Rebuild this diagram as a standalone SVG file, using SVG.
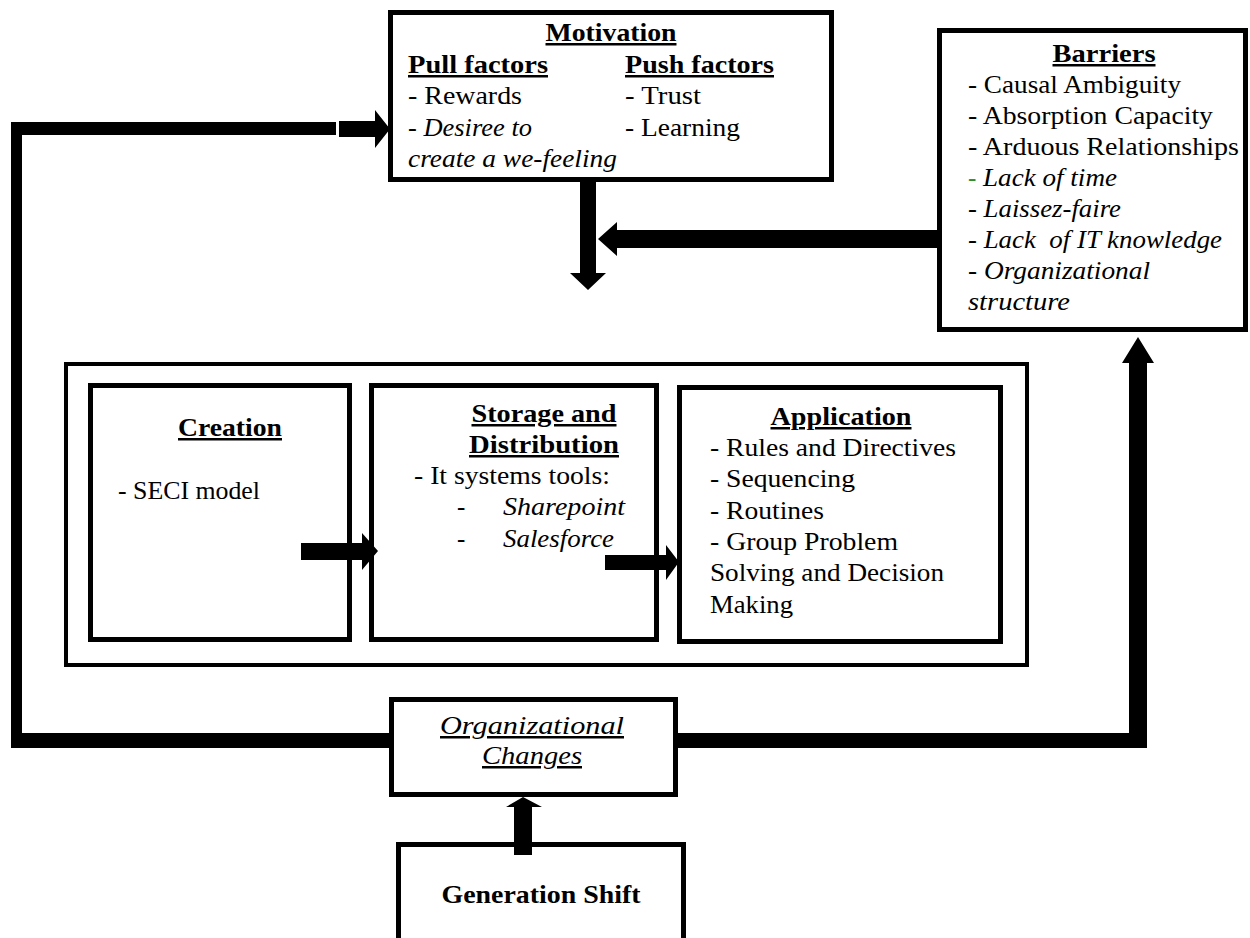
<svg xmlns="http://www.w3.org/2000/svg" width="1250" height="938" viewBox="0 0 1250 938">
<style>
.t{font-family:"Liberation Serif",serif;font-size:25px;fill:#000}
.b{font-weight:bold}
.u{text-decoration:underline}
.i{font-style:italic}
.box{fill:#fff;stroke:#000;stroke-width:5}
.box4{fill:#fff;stroke:#000;stroke-width:4}
.arr{fill:#000;stroke:none}
</style>
<rect width="1250" height="938" fill="#fff"/>

<g id="motivation">
<rect class="box" x="390.5" y="12.5" width="441" height="167"/>
<text class="t b u" x="611" y="41" text-anchor="middle" textLength="131" lengthAdjust="spacingAndGlyphs">Motivation</text>
<text class="t b u" x="408" y="73" textLength="140" lengthAdjust="spacingAndGlyphs">Pull factors</text>
<text class="t" x="408" y="104" textLength="114" lengthAdjust="spacingAndGlyphs">- Rewards</text>
<text class="t" x="408" y="136" textLength="124" lengthAdjust="spacingAndGlyphs">- <tspan class="i">Desiree to</tspan></text>
<text class="t i" x="408" y="167" textLength="209" lengthAdjust="spacingAndGlyphs">create a we-feeling</text>
<text class="t b u" x="625" y="73" textLength="149" lengthAdjust="spacingAndGlyphs">Push factors</text>
<text class="t" x="625" y="104" textLength="76" lengthAdjust="spacingAndGlyphs">- Trust</text>
<text class="t" x="625" y="136" textLength="115" lengthAdjust="spacingAndGlyphs">- Learning</text>
</g>

<g id="barriers">
<rect class="box" x="939.5" y="30.5" width="306" height="299"/>
<text class="t b u" x="1104" y="62" text-anchor="middle" textLength="103" lengthAdjust="spacingAndGlyphs">Barriers</text>
<text class="t" x="968" y="93" textLength="213" lengthAdjust="spacingAndGlyphs">- Causal Ambiguity</text>
<text class="t" x="968" y="124" textLength="245" lengthAdjust="spacingAndGlyphs">- Absorption Capacity</text>
<text class="t" x="968" y="155" textLength="271" lengthAdjust="spacingAndGlyphs">- Arduous Relationships</text>
<text class="t" x="968" y="186" style="fill:#2f8f2f">-</text>
<text class="t i" x="983" y="186" textLength="134" lengthAdjust="spacingAndGlyphs">Lack of time</text>
<text class="t i" x="968" y="217" textLength="153" lengthAdjust="spacingAndGlyphs">- Laissez-faire</text>
<text class="t i" x="968" y="248" textLength="254" lengthAdjust="spacingAndGlyphs" xml:space="preserve">- Lack  of IT knowledge</text>
<text class="t i" x="968" y="279" textLength="182" lengthAdjust="spacingAndGlyphs">- Organizational</text>
<text class="t i" x="968" y="310" textLength="102" lengthAdjust="spacingAndGlyphs">structure</text>
</g>

<g id="process">
<rect class="box4" x="66" y="364" width="961" height="301"/>
</g>

<g id="creation">
<rect class="box" x="90.5" y="385.5" width="259" height="254"/>
<text class="t b u" x="230" y="436" text-anchor="middle" textLength="104" lengthAdjust="spacingAndGlyphs">Creation</text>
<text class="t" x="118" y="499" textLength="142" lengthAdjust="spacingAndGlyphs">- SECI model</text>
</g>

<g id="storage">
<rect class="box" x="371.5" y="385.5" width="285" height="254"/>
<text class="t b u" x="544" y="422" text-anchor="middle" textLength="145" lengthAdjust="spacingAndGlyphs">Storage and</text>
<text class="t b u" x="544" y="453" text-anchor="middle" textLength="150" lengthAdjust="spacingAndGlyphs">Distribution</text>
<text class="t" x="414" y="484" textLength="196" lengthAdjust="spacingAndGlyphs">- It systems tools:</text>
<text class="t" x="457" y="515">-</text>
<text class="t i" x="503" y="515" textLength="122" lengthAdjust="spacingAndGlyphs">Sharepoint</text>
<text class="t" x="457" y="547">-</text>
<text class="t i" x="503" y="547" textLength="111" lengthAdjust="spacingAndGlyphs">Salesforce</text>
</g>

<g id="application">
<rect class="box" x="679.5" y="387.5" width="321" height="254"/>
<text class="t b u" x="841" y="425" text-anchor="middle" textLength="141" lengthAdjust="spacingAndGlyphs">Application</text>
<text class="t" x="710" y="456" textLength="246" lengthAdjust="spacingAndGlyphs">- Rules and Directives</text>
<text class="t" x="710" y="487" textLength="145" lengthAdjust="spacingAndGlyphs">- Sequencing</text>
<text class="t" x="710" y="519" textLength="114" lengthAdjust="spacingAndGlyphs">- Routines</text>
<text class="t" x="710" y="550" textLength="188" lengthAdjust="spacingAndGlyphs">- Group Problem</text>
<text class="t" x="710" y="581" textLength="234" lengthAdjust="spacingAndGlyphs">Solving and Decision</text>
<text class="t" x="710" y="613" textLength="83" lengthAdjust="spacingAndGlyphs">Making</text>
</g>

<g id="org-changes">
<rect class="box" x="391.5" y="699.5" width="284" height="95"/>
<text class="t i u" x="532" y="734" text-anchor="middle" textLength="184" lengthAdjust="spacingAndGlyphs">Organizational</text>
<text class="t i u" x="532" y="764" text-anchor="middle" textLength="100" lengthAdjust="spacingAndGlyphs">Changes</text>
</g>

<g id="generation-shift">
<rect class="box" x="398.5" y="844.5" width="285" height="110"/>
<text class="t b" x="541" y="903" text-anchor="middle" textLength="199" lengthAdjust="spacingAndGlyphs">Generation Shift</text>
</g>

<g id="connectors">
<polygon class="arr" points="389,733 22,733 22,135 336,135 336,122 11,122 11,748 389,748"/>
<polygon class="arr" points="339,121 375,121 375,110 390,129 375,148 375,137 339,137"/>
<polygon class="arr" points="678,733 1129,733 1129,363 1122,363 1138,337 1154,363 1147,363 1147,748 678,748"/>
<polygon class="arr" points="580,182 596,182 596,273 606,273 588,290 570,273 580,273"/>
<polygon class="arr" points="937,230 617,230 617,222 598,239 617,256 617,248 937,248"/>
<polygon class="arr" points="301,543 362,543 362,533 378,551 362,570 362,560 301,560"/>
<polygon class="arr" points="605,555 666,555 666,545 679,562 666,580 666,570 605,570"/>
<polygon class="arr" points="514,855 514,807 506,807 523,797 542,807 532,807 532,855"/>
</g>
</svg>
